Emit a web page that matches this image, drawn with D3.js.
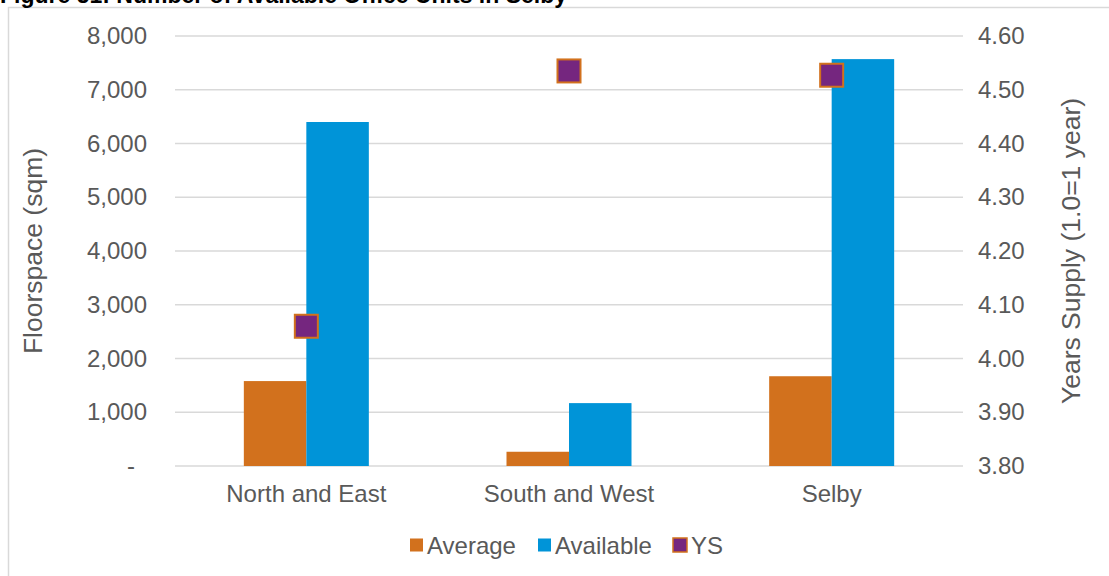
<!DOCTYPE html>
<html>
<head>
<meta charset="utf-8">
<script src="https://cdn.jsdelivr.net/npm/d3@7"></script>
<style>
  body { margin: 0; background: #fff; }
  text { font-family: "Liberation Sans", Arial, sans-serif; }
</style>
</head>
<body>
<div id="wrapper"></div>
<script>
// data
const categories = ['North and East', 'South and West', 'Selby']
const averageValues = [1580, 265, 1670]
const availableValues = [6400, 1170, 7570]
const ysValues = [4.06, 4.535, 4.527]
const leftTicks = [0, 1000, 2000, 3000, 4000, 5000, 6000, 7000, 8000]
const rightTicks = [3.8, 3.9, 4.0, 4.1, 4.2, 4.3, 4.4, 4.5, 4.6]

const colors = { average: '#d2711d', available: '#0094d8', ys: '#75267f' }
const textColor = '#595959'

let dimensions = {
  width: 1109,
  height: 576,
  margin: { top: 36, right: 146, bottom: 110, left: 175 }
}
dimensions.boundedWidth = dimensions.width - dimensions.margin.left - dimensions.margin.right
dimensions.boundedHeight = dimensions.height - dimensions.margin.top - dimensions.margin.bottom

const svg = d3.select('#wrapper')
  .append('svg')
    .attr('width', dimensions.width)
    .attr('height', dimensions.height)

// chart frame
svg.append('rect')
  .attr('x', 8.5).attr('y', 7.5)
  .attr('width', 1120).attr('height', 600)
  .attr('fill', 'none')
  .attr('stroke', '#d9d9d9')
  .attr('stroke-width', 1.5)

// title (cut off at the top in the source)
svg.append('text')
  .attr('x', 0).attr('y', 3)
  .attr('font-size', 23)
  .attr('font-weight', 'bold')
  .attr('fill', '#000')
  .text('Figure 51: Number of Available Office Units in Selby')

const bounds = svg.append('g')
  .attr('transform', `translate(${dimensions.margin.left}, ${dimensions.margin.top})`)

// scales
const xScale = d3.scaleBand()
  .domain(categories)
  .range([0, dimensions.boundedWidth])

const yScale = d3.scaleLinear()
  .domain([0, 8000])
  .range([dimensions.boundedHeight, 0])

const y2Scale = d3.scaleLinear()
  .domain([3.8, 4.6])
  .range([dimensions.boundedHeight, 0])

// gridlines
bounds.append('g')
  .selectAll('line')
  .data(leftTicks)
  .join('line')
    .attr('x1', 0)
    .attr('x2', dimensions.boundedWidth)
    .attr('y1', d => yScale(d))
    .attr('y2', d => yScale(d))
    .attr('stroke', '#d9d9d9')
    .attr('stroke-width', 1.5)

// bars
const barWidth = 62.5
const barGroups = bounds.append('g')
  .selectAll('g')
  .data(categories)
  .join('g')
    .attr('transform', d => `translate(${xScale(d) + xScale.bandwidth() / 2}, 0)`)

barGroups.append('rect')
  .attr('x', -barWidth)
  .attr('width', barWidth)
  .attr('y', (d, i) => yScale(averageValues[i]))
  .attr('height', (d, i) => dimensions.boundedHeight - yScale(averageValues[i]))
  .attr('fill', colors.average)

barGroups.append('rect')
  .attr('x', 0)
  .attr('width', barWidth)
  .attr('y', (d, i) => yScale(availableValues[i]))
  .attr('height', (d, i) => dimensions.boundedHeight - yScale(availableValues[i]))
  .attr('fill', colors.available)

// YS markers
const markerSize = 23
barGroups.append('rect')
  .attr('x', -markerSize / 2)
  .attr('y', (d, i) => y2Scale(ysValues[i]) - markerSize / 2)
  .attr('width', markerSize)
  .attr('height', markerSize)
  .attr('fill', colors.ys)
  .attr('stroke', colors.average)
  .attr('stroke-width', 2)

// left axis
const leftAxis = d3.axisLeft(yScale)
  .tickValues(leftTicks)
  .tickSize(0)
  .tickPadding(28)
  .tickFormat(d => d === 0 ? '-' : d3.format(',')(d))

const leftAxisGroup = bounds.append('g').call(leftAxis)
leftAxisGroup.select('.domain').remove()
leftAxisGroup.selectAll('text')
  .attr('font-size', 24)
  .attr('font-family', '"Liberation Sans", Arial, sans-serif')
  .attr('fill', textColor)
leftAxisGroup.selectAll('.tick')
  .filter(d => d === 0)
  .select('text')
  .attr('dx', -12)

// right axis
const rightAxis = d3.axisRight(y2Scale)
  .tickValues(rightTicks)
  .tickSize(0)
  .tickPadding(15)
  .tickFormat(d3.format('.2f'))

const rightAxisGroup = bounds.append('g')
  .attr('transform', `translate(${dimensions.boundedWidth}, 0)`)
  .call(rightAxis)
rightAxisGroup.select('.domain').remove()
rightAxisGroup.selectAll('text')
  .attr('font-size', 24)
  .attr('font-family', '"Liberation Sans", Arial, sans-serif')
  .attr('fill', textColor)

// x axis labels
const xAxis = d3.axisBottom(xScale)
  .tickSize(0)
  .tickPadding(19)

const xAxisGroup = bounds.append('g')
  .attr('transform', `translate(0, ${dimensions.boundedHeight})`)
  .call(xAxis)
xAxisGroup.select('.domain').remove()
xAxisGroup.selectAll('text')
  .attr('font-size', 24)
  .attr('font-family', '"Liberation Sans", Arial, sans-serif')
  .attr('fill', textColor)

// axis titles
svg.append('text')
  .attr('transform', 'translate(42, 251) rotate(-90)')
  .attr('text-anchor', 'middle')
  .attr('font-size', 26.5)
  .attr('fill', textColor)
  .text('Floorspace (sqm)')

svg.append('text')
  .attr('transform', 'translate(1080, 251) rotate(-90)')
  .attr('text-anchor', 'middle')
  .attr('font-size', 26.5)
  .attr('fill', textColor)
  .text('Years Supply (1.0=1 year)')

// legend
const legendItems = [
  { label: 'Average', color: colors.average, x: 410 },
  { label: 'Available', color: colors.available, x: 538 },
  { label: 'YS', color: colors.ys, x: 672, stroke: colors.average }
]

const legend = svg.append('g')
  .selectAll('g')
  .data(legendItems)
  .join('g')
    .attr('transform', d => `translate(${d.x}, 545)`)

legend.append('rect')
  .attr('x', d => d.stroke ? 1 : 0)
  .attr('y', d => d.stroke ? -7 : -6.5)
  .attr('width', d => d.stroke ? 14 : 13)
  .attr('height', d => d.stroke ? 14 : 13)
  .attr('fill', d => d.color)
  .attr('stroke', d => d.stroke || 'none')
  .attr('stroke-width', 1.5)

legend.append('text')
  .attr('x', d => d.stroke ? 19 : 17)
  .attr('y', 9)
  .attr('font-size', 24)
  .attr('fill', textColor)
  .text(d => d.label)
</script>
</body>
</html>
